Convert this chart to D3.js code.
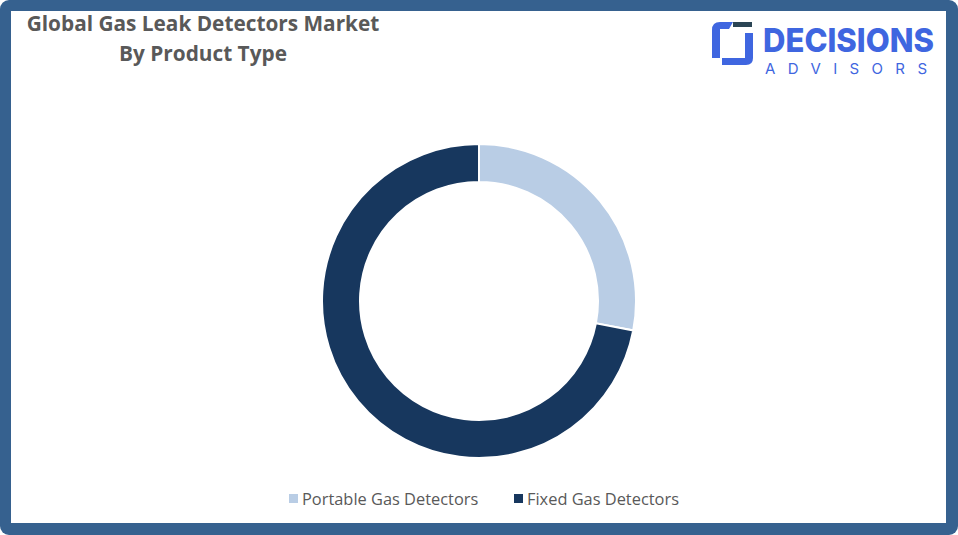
<!DOCTYPE html>
<html>
<head>
<meta charset="utf-8">
<script src="https://cdn.jsdelivr.net/npm/d3@7"></script>
<style>
html,body{margin:0;padding:0;background:#fff;}
svg{display:block;}
</style>
</head>
<body>
<svg id="chart" width="958" height="535"></svg>
<script>
const categories = ["Portable Gas Detectors", "Fixed Gas Detectors"];
const shares = [28, 72];
const colors = ["#B9CDE5", "#17375E"];
const titleLines = ["Global Gas Leak Detectors Market", "By Product Type"];

const W = 958, H = 535;
const svg = d3.select("#chart");

// frame
svg.append("rect").attr("x",0).attr("y",0).attr("width",W).attr("height",H)
  .attr("rx",9).attr("fill","#36618F");
svg.append("rect").attr("x",11).attr("y",11).attr("width",W-23).attr("height",H-23)
  .attr("fill","#ffffff");

// title
const title = svg.append("text").attr("text-anchor","middle")
  .attr("font-family","'Open Sans', sans-serif").attr("font-weight",700)
  .attr("font-size",20.8).attr("fill","#595959");
titleLines.forEach((t,i)=>{
  title.append("tspan").attr("x",203).attr("y",31+i*30).text(t);
});

// logo
const logo = svg.append("g");
const blue = "#3F66E0";
logo.append("path").attr("fill",blue)
  .attr("d","M712,30 Q712,22 720,22 L733,22 L729,29 L720,29 L720,58 L712,58 Z");
logo.append("rect").attr("x",733).attr("y",22).attr("width",19).attr("height",5).attr("fill","#2B4555");
logo.append("path").attr("fill",blue)
  .attr("d","M745,33 L753,33 L753,58 Q753,65 746,65 L722,65 L722,58 L745,58 Z");
logo.append("text").attr("x",763).attr("y",52).attr("font-family","'Inter', sans-serif")
  .attr("font-weight",800).attr("font-size",33).attr("fill",blue).text("DECISIONS")
  .attr("textLength",171).attr("lengthAdjust","spacingAndGlyphs");
logo.append("text").attr("x",765).attr("y",74).attr("font-family","'Inter', sans-serif")
  .attr("font-weight",400).attr("font-size",15).attr("fill",blue).text("ADVISORS")
  .attr("textLength",162).attr("lengthAdjust","spacing");

// donut
const cx = 479, cy = 301, rOuter = 157, rInner = 119;
const pie = d3.pie().sort(null).value(d=>d.v);
const arcs = pie(categories.map((c,i)=>({c, v: shares[i]})));
const arc = d3.arc().innerRadius(rInner).outerRadius(rOuter);
const color = d3.scaleOrdinal().domain(categories).range(colors);
svg.append("g").attr("transform",`translate(${cx},${cy})`)
  .selectAll("path").data(arcs).join("path")
  .attr("d",arc).attr("fill",d=>color(d.data.c))
  .attr("stroke","#ffffff").attr("stroke-width",2);

// legend
const legendX = [289, 514];
const lg = svg.append("g");
categories.forEach((c,i)=>{
  lg.append("rect").attr("x",legendX[i]).attr("y",494).attr("width",9).attr("height",9).attr("fill",color(c));
  lg.append("text").attr("x",legendX[i]+13).attr("y",505)
    .attr("font-family","'Open Sans', sans-serif").attr("font-size",16.4).attr("fill","#595959").text(c);
});
</script>
</body>
</html>
